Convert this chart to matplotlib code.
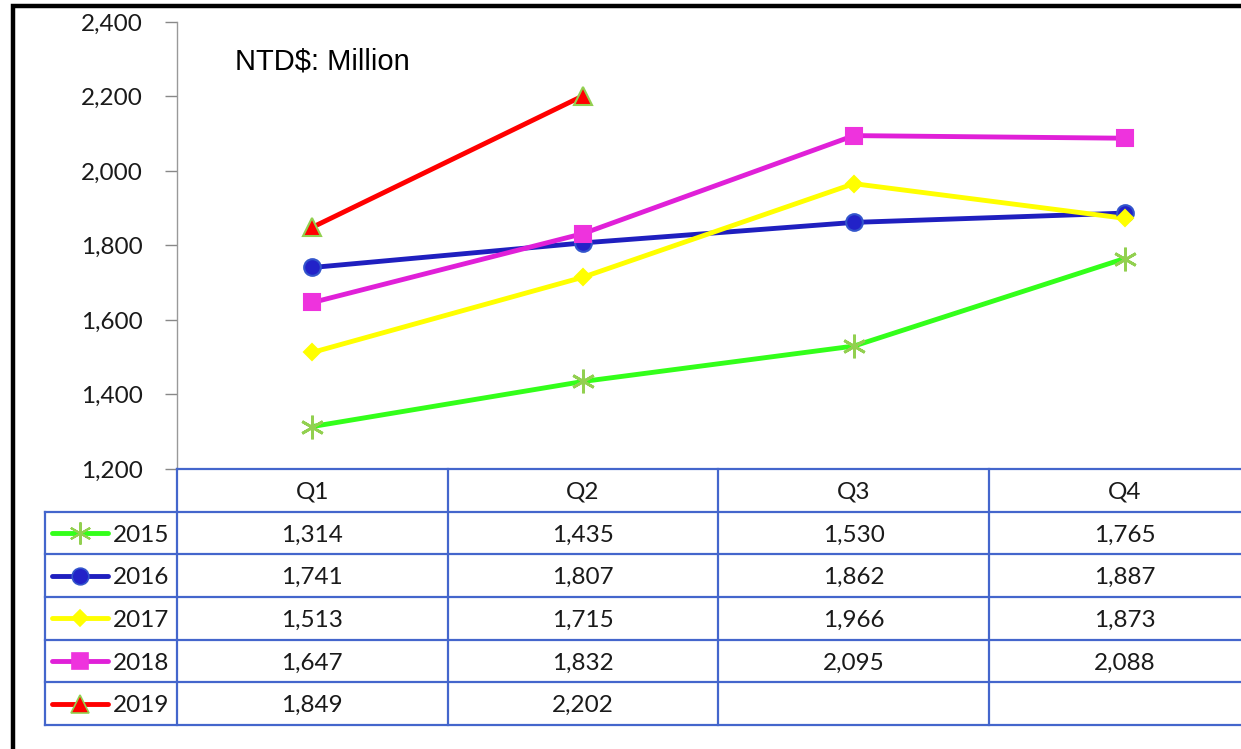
import matplotlib
matplotlib.use("Agg")
import matplotlib.pyplot as plt
from matplotlib.patches import Rectangle

# ----------------------------
# Data
# ----------------------------
quarters = ["Q1", "Q2", "Q3", "Q4"]
years = ["2015", "2016", "2017", "2018", "2019"]
v2015 = [1314, 1435, 1530, 1765]
v2016 = [1741, 1807, 1862, 1887]
v2017 = [1513, 1715, 1966, 1873]
v2018 = [1647, 1832, 2095, 2088]
v2019 = [1849, 2202]
series = [v2015, v2016, v2017, v2018, v2019]

# style per year: line colour, marker, marker face, marker edge, marker size
styles = [
    dict(color="#33FF1A", marker="*", mfc="#92D050", mec="#92D050", ms=0),
    dict(color="#1F1FBF", marker="o", mfc="#2222C8", mec="#3355CC", ms=12),
    dict(color="#FFFF00", marker="D", mfc="#FFFF00", mec="#FFFF00", ms=8.5),
    dict(color="#E020D8", marker="s", mfc="#EE33DD", mec="#EE33DD", ms=11.5),
    dict(color="#FF0000", marker="^", mfc="#FF0000", mec="#92D050", ms=13),
]

FS = 17.5  # table / tick font size
TXT = "#1a1a1a"

W, H = 1241, 749
fig = plt.figure(figsize=(W / 100, H / 100), dpi=100)

# plot area in pixels
x_left, x_right = 177, 1260
y_top, y_bot = 22, 469
ax = fig.add_axes([x_left / W, 1 - y_bot / H, (x_right - x_left) / W, (y_bot - y_top) / H])

for vals, st in zip(series, styles):
    xs = list(range(len(vals)))
    ax.plot(xs, vals, color=st["color"], lw=3.5, zorder=3, solid_capstyle="round")
    if st["marker"] == "*":
        ax.plot(xs, vals, ls="none", marker=(6, 2, 0), ms=17, mec=st["mec"], mew=2, zorder=4)
    else:
        ax.plot(xs, vals, ls="none", marker=st["marker"], ms=st["ms"],
                mfc=st["mfc"], mec=st["mec"], mew=1.5, zorder=4)

ax.set_xlim(-0.5, 3.5)
ax.set_ylim(1200, 2400)
ax.set_yticks(range(1200, 2401, 200))
ax.set_yticklabels([f"{t:,}" for t in range(1200, 2401, 200)], fontfamily="Lato", fontsize=FS, color=TXT)
ax.tick_params(axis="y", length=9, width=1, color="#888888", pad=15.5)
ax.set_xticks([])
for s in ["top", "right", "bottom"]:
    ax.spines[s].set_visible(False)
ax.spines["left"].set_color("#999999")
ax.spines["left"].set_linewidth(1)

ax.text(235 / W, 1 - 62 / H, "NTD$: Million", transform=fig.transFigure,
        fontfamily="Liberation Sans", fontsize=21, va="center", ha="left")

# ----------------------------
# Data table under the chart
# ----------------------------
t_left, t_bot = 45, 725
leg_w = (x_left - t_left) / 271.0
x0 = -0.5 - leg_w
tax = fig.add_axes([t_left / W, 1 - t_bot / H, (x_right - t_left) / W, (t_bot - y_bot) / H])
tax.set_xlim(x0, 3.5)
tax.set_ylim(6, 0)
tax.axis("off")

grid = "#4466CC"
tax.plot([-0.5, 3.5], [0, 0], color=grid, lw=1.6, clip_on=False)
for r in range(1, 7):
    tax.plot([x0, 3.5], [r, r], color=grid, lw=1.6, clip_on=False)
for c in [-0.5, 0.5, 1.5, 2.5, 3.5]:
    tax.plot([c, c], [0, 6], color=grid, lw=1.6, clip_on=False)
tax.plot([x0, x0], [1, 6], color=grid, lw=1.6, clip_on=False)

for i, q in enumerate(quarters):
    tax.text(i, 0.55, q, ha="center", va="center", fontfamily="Lato", fontsize=FS, color=TXT)

for r, (yr, vals, st) in enumerate(zip(years, series, styles)):
    yc = r + 1.5
    for i, v in enumerate(vals):
        tax.text(i, yc + 0.05, f"{v:,}", ha="center", va="center", fontfamily="Lato",
                 fontsize=FS, color=TXT)
    # legend key
    lx1, lx2 = x0 + 7 / 271, x0 + 63 / 271
    tax.plot([lx1, lx2], [yc, yc], color=st["color"], lw=3.5, solid_capstyle="round")
    mx = (lx1 + lx2) / 2
    if st["marker"] == "*":
        tax.plot([mx], [yc], ls="none", marker=(6, 2, 0), ms=16, mec=st["mec"], mew=1.5)
    else:
        tax.plot([mx], [yc], ls="none", marker=st["marker"], ms=st["ms"],
                 mfc=st["mfc"], mec=st["mec"], mew=1.2)
    tax.text(x0 + 68 / 271, yc + 0.05, yr, ha="left", va="center", fontfamily="Lato",
             fontsize=FS, color=TXT)

# black outer frame (runs past the right and bottom edges)
fig.add_artist(Rectangle((12.5 / W, -0.1), 1.2, 1.1 - 5.5 / H, transform=fig.transFigure,
                         fill=False, ec="black", lw=3.2))

fig.savefig("out.png", dpi=100)
